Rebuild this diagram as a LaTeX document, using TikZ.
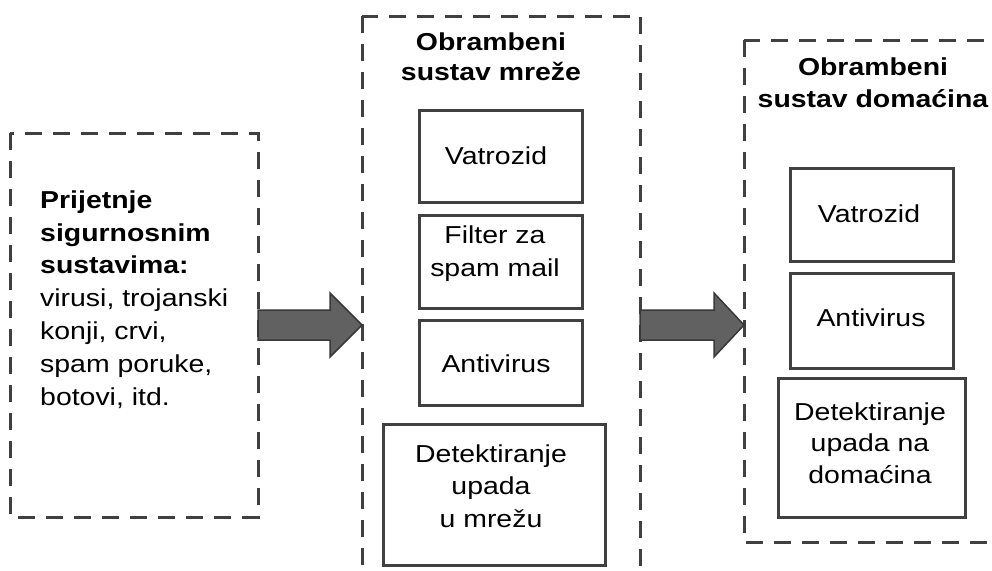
\documentclass[tikz,border=0pt]{standalone}
\usepackage{fontspec}
\setmainfont[FakeStretch=1.16]{Liberation Sans}
\begin{document}
\begin{tikzpicture}[x=1pt,y=-1pt,
  dbox/.style={draw=black!75, line width=3pt, dash pattern=on 17pt off 11pt},
  ibox/.style={draw=black!75, line width=3pt, fill=white, inner sep=0pt},
  lbl/.style={font=\fontsize{24.5}{32.5}\selectfont, align=center, inner sep=0pt, anchor=base},
  ttl/.style={font=\bfseries\fontsize{24.5}{30}\selectfont, align=center, inner sep=0pt, anchor=base},
  fatarrow/.style={draw=black!78, fill=black!62, line width=1.5pt, line join=miter}]
\clip (0,0) rectangle (992,570);
\fill[white] (0,0) rectangle (992,570);
% dashed groups
\draw[dbox] (10,133) rectangle (258,517);
\draw[dbox] (362,16) rectangle (640,600);
\draw[dbox] (744,40) rectangle (1020,542);
\coordinate (g1) at (258,325);
\coordinate (g2) at (362,325);
\coordinate (g3) at (640,325);
\coordinate (g4) at (744,325);
% left text (base anchor = last line)
\node[anchor=base west, align=left, inner sep=0pt, font=\fontsize{24.5}{32.8}\selectfont] (threat) at (40,405)
 {\textbf{Prijetnje}\\ \textbf{sigurnosnim}\\ \textbf{sustavima:}\\ virusi, trojanski\\ konji, crvi,\\ spam poruke,\\ botovi, itd.};
% titles
\node[ttl] (t1) at (491,80) {Obrambeni\\ sustav mreže};
\node[ttl, font=\bfseries\fontsize{24.5}{32}\selectfont] (t2) at (873,107) {Obrambeni\\ sustav domaćina};
% middle boxes
\node[ibox, minimum width=163pt, minimum height=92pt] (v1) at (500.5,156) {};
\node[lbl] at (496,164) {Vatrozid};
\node[ibox, minimum width=163pt, minimum height=93pt] (f1) at (500.5,261.5) {};
\node[lbl, font=\fontsize{24.5}{33}\selectfont] at (495,276) {Filter za\\ spam mail};
\node[ibox, minimum width=163pt, minimum height=85pt] (a1) at (500.5,362.5) {};
\node[lbl] at (496,372) {Antivirus};
\node[ibox, minimum width=222pt, minimum height=141pt] (d1) at (494,494.5) {};
\node[lbl] at (491,527) {Detektiranje\\ upada\\ u mrežu};
% right boxes
\node[ibox, minimum width=163pt, minimum height=93pt] (v2) at (871.5,214.5) {};
\node[lbl] at (869,222) {Vatrozid};
\node[ibox, minimum width=163pt, minimum height=95pt] (a2) at (871.5,320.5) {};
\node[lbl] at (871,326) {Antivirus};
\node[ibox, minimum width=187pt, minimum height=139pt] (d2) at (871.5,447.5) {};
\node[lbl, font=\fontsize{24.5}{31.5}\selectfont] at (870,483) {Detektiranje\\ upada na\\ domaćina};
% arrows
\draw[fatarrow] (g1 |- 0,310) -- (330,310) -- (330,293) -- (g2) -- (330,357) -- (330,340) -- (g1 |- 0,340) -- cycle;
\draw[fatarrow] (g3 |- 0,310) -- (714,310) -- (714,293) -- (g4) -- (714,357) -- (714,340) -- (g3 |- 0,340) -- cycle;
\end{tikzpicture}
\end{document}
